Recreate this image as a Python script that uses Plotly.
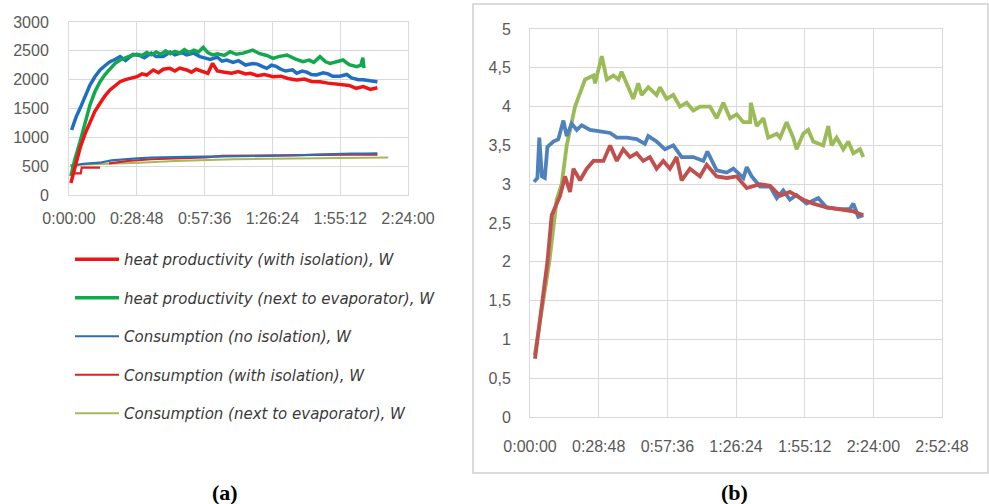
import plotly.graph_objects as go

# ---------------- Panel (a) data (time in minutes, power in W) ----------------
t_heat_noiso = [1.1, 3, 4.7, 7, 8.9, 11, 13.2, 15.5, 17.4, 19.5, 21.7, 24, 27.2, 30, 32, 35, 37, 40, 43, 45, 48, 50, 53,
                55.6, 58, 60, 63, 65, 67, 69.7, 72, 75, 78, 80, 82, 84, 86, 88, 90, 92, 95, 96.7, 99, 101, 103, 105, 108,
                110, 112, 115, 118, 120, 123, 125, 128, 131]
v_heat_noiso = [1127, 1350, 1503, 1720, 1907, 2050, 2168, 2250, 2312, 2350, 2399, 2330, 2440, 2420, 2380, 2460, 2400,
                2400, 2480, 2430, 2470, 2430, 2460, 2400, 2380, 2350, 2390, 2320, 2340, 2300, 2330, 2254, 2280, 2270,
                2230, 2196, 2250, 2230, 2180, 2150, 2170, 2110, 2150, 2130, 2090, 2081, 2120, 2100, 2060, 2060, 2090,
                2030, 2000, 2000, 1980, 1965]

t_heat_iso = [0.8, 2.5, 4.7, 6.8, 8.9, 11, 13.2, 15.3, 17.4, 19.5, 21.7, 24, 26, 28.9, 31, 33, 35.8, 38, 40, 42.9, 45,
              47, 50, 52, 54, 57, 59, 61, 63, 66, 69, 72, 75, 77, 80, 83, 86.7, 90, 93, 96.7, 100, 103, 106.6, 110, 113,
              116, 119, 122, 125, 128, 131]
v_heat_iso = [208, 500, 815, 1060, 1271, 1450, 1590, 1720, 1821, 1900, 1965, 2000, 2020, 2052, 2100, 2080, 2168, 2120,
              2180, 2196, 2150, 2200, 2168, 2130, 2180, 2139, 2110, 2283, 2150, 2130, 2110, 2140, 2100, 2110, 2070,
              2090, 2052, 2060, 2020, 1994, 2010, 1970, 1965, 1940, 1930, 1907, 1900, 1850, 1880, 1830, 1860]

t_heat_evap = [0.8, 2.5, 4.7, 6.8, 8.9, 11, 13.2, 15.3, 17.4, 19.5, 21.7, 24, 26.5, 28.9, 31, 33, 35, 37, 39, 41, 43,
               45, 47, 49, 51, 53, 55, 57, 59, 61, 63, 66, 68.4, 71, 74, 78, 81, 84, 86.7, 89, 92.6, 96, 99.4, 102,
               104, 106.6, 109, 110.9, 113, 116.4, 119, 122.3, 124, 124.8, 125.3]
v_heat_evap = [330, 620, 924, 1260, 1561, 1790, 1965, 2090, 2196, 2280, 2341, 2380, 2420, 2440, 2420, 2470, 2430, 2480,
               2440, 2500, 2450, 2490, 2460, 2520, 2470, 2510, 2480, 2560, 2470, 2430, 2450, 2420, 2485, 2440, 2460,
               2514, 2450, 2420, 2370, 2400, 2428, 2360, 2312, 2340, 2300, 2399, 2310, 2283, 2300, 2341, 2260, 2225,
               2250, 2380, 2200]

t_cons_noiso = [0.8, 3, 6, 10, 13, 18, 23, 29, 35, 42, 50, 58, 66, 75, 86.7, 95, 105, 112, 120, 126, 131]
v_cons_noiso = [491, 520, 540, 552, 560, 600, 620, 636, 650, 660, 662, 664, 668, 670, 675, 685, 700, 711, 720, 718, 722]

t_cons_iso = [0.8, 5, 5.4, 13.2, None, 17, 25, 35, 45, 58, 65, 75, 90, 105, 120, 131]
v_cons_iso = [376, 376, 474, 474, None, 549, 590, 620, 635, 650, 680, 685, 690, 695, 700, 700]

t_cons_evap = [0.5, 10, 20, 30, 45, 58, 70, 86, 100, 115, 125, 135.6]
v_cons_evap = [520, 530, 545, 560, 590, 610, 620, 630, 635, 640, 645, 650]

x_ticks_a = ["0:00:00", "0:28:48", "0:57:36", "1:26:24", "1:55:12", "2:24:00"]

# ---------------- Panel (b) data (time in minutes, ratio) ----------------
t_b_blue = [1.7, 3.1, 3.9, 5.0, 6.2, 7.3, 9.8, 11.9, 14.0, 15.4, 17.5, 19.6, 21.7, 25.2, 29.4, 33.6, 36.4, 40.5, 44.7,
            48.2, 49.6, 53.1, 56.6, 60.1, 63.6, 68.5, 72.7, 74.4, 78.3, 82.5, 85.3, 89.5, 90.9, 93.0, 96.5, 100.7,
            103.5, 106.2, 109.0, 111.8, 116.0, 120.9, 124.4, 130.0, 134.2, 135.6, 137.7, 139.8]
v_b_blue = [3.03, 3.08, 3.60, 3.10, 3.08, 3.48, 3.55, 3.58, 3.82, 3.62, 3.78, 3.70, 3.76, 3.70, 3.68, 3.66, 3.60, 3.60,
            3.58, 3.52, 3.62, 3.55, 3.45, 3.50, 3.35, 3.35, 3.30, 3.42, 3.18, 3.15, 3.20, 3.08, 3.22, 3.10, 2.97, 2.97,
            2.82, 2.92, 2.80, 2.86, 2.75, 2.82, 2.70, 2.68, 2.68, 2.75, 2.58, 2.60]

t_b_red = [2.1, 7.3, 9.1, 12.6, 14.7, 16.8, 18.2, 21.0, 23.8, 26.6, 30.8, 33.6, 36.4, 39.1, 41.9, 44.7, 47.5, 50.3,
           53.1, 55.9, 58.7, 61.5, 63.6, 67.1, 71.3, 74.1, 78.3, 82.5, 86.7, 90.9, 96.5, 100.7, 104.9, 109.0, 114.6,
           118.8, 124.4, 131.4, 135.6, 139.8]
v_b_red = [0.75, 2.0, 2.6, 2.85, 3.10, 2.90, 3.20, 3.05, 3.20, 3.30, 3.30, 3.50, 3.30, 3.45, 3.35, 3.40, 3.30, 3.35,
           3.20, 3.30, 3.20, 3.35, 3.05, 3.20, 3.10, 3.25, 3.10, 3.08, 3.10, 2.95, 3.00, 2.98, 2.85, 2.90, 2.80, 2.75,
           2.70, 2.67, 2.65, 2.60]

t_b_green = [2.0, 8.1, 11.2, 13.3, 15.4, 18.9, 23.1, 26.6, 27.3, 30.1, 32.2, 35.0, 37.1, 38.4, 40.5, 43.3, 45.4, 46.8,
             49.6, 53.1, 54.5, 57.3, 60.1, 62.9, 65.7, 68.5, 71.3, 75.5, 78.3, 81.1, 83.9, 86.7, 89.5, 92.3, 92.6,
             95.1, 97.9, 99.9, 103.5, 104.9, 107.6, 110.4, 111.8, 114.6, 116.7, 118.8, 123.0, 125.1, 126.5, 128.6,
             131.4, 133.5, 135.6, 138.4, 139.8]
v_b_green = [0.8, 2.0, 2.8, 3.0, 3.5, 4.0, 4.35, 4.40, 4.30, 4.65, 4.35, 4.40, 4.35, 4.45, 4.30, 4.10, 4.30, 4.15, 4.25,
             4.15, 4.25, 4.10, 4.15, 4.00, 4.05, 3.95, 4.00, 4.00, 3.85, 4.05, 3.85, 3.90, 3.80, 3.80, 4.05, 3.75, 3.85,
             3.60, 3.65, 3.60, 3.80, 3.60, 3.45, 3.65, 3.70, 3.55, 3.50, 3.75, 3.50, 3.60, 3.45, 3.55, 3.40, 3.45, 3.35]

x_ticks_b = ["0:00:00", "0:28:48", "0:57:36", "1:26:24", "1:55:12", "2:24:00", "2:52:48"]
y_ticks_b = ["0", "0,5", "1", "1,5", "2", "2,5", "3", "3,5", "4", "4,5", "5"]

W, H = 989, 504
def px_x(p): return p / W
def px_y(p): return 1 - p / H

fig = go.Figure()

# ---- panel (a) traces (order: thin lines under thick lines) ----
fig.add_trace(go.Scatter(x=t_cons_evap, y=v_cons_evap, mode="lines", name="Consumption (next to evaporator), W",
                         line=dict(color="#a9b65a", width=2), legendgroup="g5", legendrank=5,
                         xaxis="x", yaxis="y"))
fig.add_trace(go.Scatter(x=t_cons_iso, y=v_cons_iso, mode="lines", name="Consumption (with isolation), W",
                         line=dict(color="#e0201e", width=2.2), legendgroup="g4", legendrank=4, connectgaps=False,
                         xaxis="x", yaxis="y"))
fig.add_trace(go.Scatter(x=t_cons_noiso, y=v_cons_noiso, mode="lines", name="Consumption (no isolation), W",
                         line=dict(color="#2e6db4", width=2.2), legendgroup="g3", legendrank=3,
                         xaxis="x", yaxis="y"))
fig.add_trace(go.Scatter(x=t_heat_noiso, y=v_heat_noiso, mode="lines", name="heat productivity (no isolation), W",
                         line=dict(color="#1f6fc0", width=3.5), showlegend=False,
                         xaxis="x", yaxis="y"))
fig.add_trace(go.Scatter(x=t_heat_evap, y=v_heat_evap, mode="lines", name="heat productivity (next to evaporator), W",
                         line=dict(color="#12a84e", width=3.5), legendgroup="g2", legendrank=2,
                         xaxis="x", yaxis="y"))
fig.add_trace(go.Scatter(x=t_heat_iso, y=v_heat_iso, mode="lines", name="heat productivity (with isolation), W",
                         line=dict(color="#f01515", width=3.5), legendgroup="g1", legendrank=1,
                         xaxis="x", yaxis="y"))

# ---- panel (b) traces ----
fig.add_trace(go.Scatter(x=t_b_green, y=v_b_green, mode="lines", name="next to evaporator",
                         line=dict(color="#9bbb59", width=3.8), showlegend=False, xaxis="x2", yaxis="y2"))
fig.add_trace(go.Scatter(x=t_b_blue, y=v_b_blue, mode="lines", name="no isolation",
                         line=dict(color="#4f81bd", width=3.8), showlegend=False, xaxis="x2", yaxis="y2"))
fig.add_trace(go.Scatter(x=t_b_red, y=v_b_red, mode="lines", name="with isolation",
                         line=dict(color="#c0504d", width=3.8), showlegend=False, xaxis="x2", yaxis="y2"))

grid = "#d9d9d9"
tickfont = dict(family="Liberation Sans, Arial, sans-serif", size=16, color="#595959")

step = 28.8
common = dict(showgrid=True, gridcolor=grid, gridwidth=1, zeroline=False, showline=True, linecolor=grid,
              mirror=True, ticks="outside", tickcolor="rgba(0,0,0,0)", tickfont=tickfont, automargin=False,
              fixedrange=True)
fig.update_layout(
    width=W, height=H,
    margin=dict(l=0, r=0, t=0, b=0, autoexpand=False),
    paper_bgcolor="white", plot_bgcolor="white",
    xaxis=dict(domain=[px_x(69), px_x(408)], range=[0, 144], tickvals=[i * step for i in range(len(x_ticks_a))],
               ticktext=x_ticks_a, ticklen=9, anchor="y", **common),
    yaxis=dict(domain=[px_y(195), px_y(22)], range=[0, 3000], dtick=500, ticklen=16, anchor="x", **common),
    xaxis2=dict(domain=[px_x(530), px_x(942)], range=[0, 172.8],
                tickvals=[i * step for i in range(len(x_ticks_b))], ticktext=x_ticks_b, ticklen=15,
                anchor="y2", **common),
    yaxis2=dict(domain=[px_y(417), px_y(29)], range=[0, 5], tickvals=[i * 0.5 for i in range(len(y_ticks_b))],
                ticktext=y_ticks_b, ticklen=15, anchor="x2", **common),
    legend=dict(x=px_x(70), y=px_y(243), xanchor="left", yanchor="top", orientation="v",
                traceorder="grouped", tracegroupgap=16, bgcolor="rgba(0,0,0,0)",
                font=dict(family="DejaVu Sans, sans-serif", size=15, color="#3a3a3a", style="italic"),
                itemwidth=44),
    showlegend=True,
)

# border around panel (b)
fig.add_shape(type="rect", xref="paper", yref="paper", x0=px_x(473), x1=px_x(988), y0=px_y(473), y1=px_y(4),
              line=dict(color="#d0d0d0", width=1.5), fillcolor="rgba(0,0,0,0)", layer="below")

labfont = dict(family="Liberation Serif, Times New Roman, serif", size=22, color="black")
fig.add_annotation(text="<b>(a)</b>", xref="paper", yref="paper", x=px_x(225), y=px_y(492), showarrow=False,
                   font=labfont, xanchor="center", yanchor="middle")
fig.add_annotation(text="<b>(b)</b>", xref="paper", yref="paper", x=px_x(734), y=px_y(492), showarrow=False,
                   font=labfont, xanchor="center", yanchor="middle")

fig.write_html("out.html", config={"displayModeBar": False},
               post_script="document.body.style.margin='0px';document.body.style.overflow='hidden';")
